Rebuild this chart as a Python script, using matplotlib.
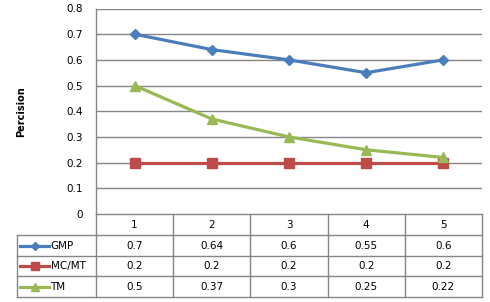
import matplotlib
matplotlib.use("Agg")
import matplotlib.pyplot as plt
from matplotlib.lines import Line2D

categories = ["1", "2", "3", "4", "5"]
series_names = ["GMP", "MC/MT", "TM"]
gmp = [0.7, 0.64, 0.6, 0.55, 0.6]
mcmt = [0.2, 0.2, 0.2, 0.2, 0.2]
tm = [0.5, 0.37, 0.3, 0.25, 0.22]
gmp_text = ["0.7", "0.64", "0.6", "0.55", "0.6"]
mcmt_text = ["0.2", "0.2", "0.2", "0.2", "0.2"]
tm_text = ["0.5", "0.37", "0.3", "0.25", "0.22"]
y_ticks = [0, 0.1, 0.2, 0.3, 0.4, 0.5, 0.6, 0.7, 0.8]
y_label = "Percision"

colors = ["#4A7EBB", "#BE4B48", "#98B954"]
markers = ["D", "s", "^"]
msizes = [5.0, 6.5, 6.5]
grid_c = "#868686"
FS = 7.5
plt.rcParams['font.family'] = ['DejaVu Sans']

W, H = 490, 302
fig = plt.figure(figsize=(W / 100, H / 100), dpi=100)

# plot area in pixels
L, R, T, B = 96, 482, 8.5, 214
ax = fig.add_axes([L / W, 1 - B / H, (R - L) / W, (B - T) / H])
xs = list(range(1, len(categories) + 1))
ax.set_xlim(0.5, len(categories) + 0.5)
ax.set_ylim(0, 0.8)
ax.set_yticks(y_ticks)
ax.set_yticklabels([("%g" % v) for v in y_ticks], fontsize=FS)
ax.tick_params(axis='y', length=0, pad=9.5)
ax.set_xticks([])
for s in ["top", "right", "bottom"]:
    ax.spines[s].set_visible(False)
ax.spines["left"].set_color(grid_c)
ax.spines["left"].set_linewidth(1)
for v in y_ticks[1:]:
    ax.axhline(v, color=grid_c, lw=1, zorder=1)

all_series = [gmp, mcmt, tm]
for vals, c, m, ms in zip(all_series, colors, markers, msizes):
    ax.plot(xs, vals, color=c, lw=2.3, marker=m, markersize=ms,
            markeredgecolor=c, zorder=3, clip_on=False)

fig.text(21 / W, 1 - 112 / H, y_label, rotation=90, fontsize=7,
         fontweight="bold", ha="center", va="center")

# data table
TL = 17
TB = 297
tax = fig.add_axes([0, 0, 1, 1])
tax.set_xlim(0, W)
tax.set_ylim(H, 0)
tax.axis("off")
colw = (R - L) / len(categories)
rows = [B, 235, 255.5, 276, TB]
lw = 1
tax.plot([L, R], [B, B], color=grid_c, lw=lw)
for i in range(len(categories) + 1):
    x = L + i * colw
    tax.plot([x, x], [B, TB], color=grid_c, lw=lw)
for yy in rows[1:]:
    tax.plot([TL, R], [yy, yy], color=grid_c, lw=lw)
tax.plot([TL, TL], [rows[1], TB], color=grid_c, lw=lw)

for i, cat in enumerate(categories):
    tax.text(L + (i + 0.5) * colw, (rows[0] + rows[1]) / 2 + 0.5, cat,
             fontsize=FS, ha="center", va="center")
texts = [gmp_text, mcmt_text, tm_text]
for r, (name, tv, c, m, ms) in enumerate(zip(series_names, texts, colors, markers, msizes)):
    yc = (rows[r + 1] + rows[r + 2]) / 2 + 0.5
    tax.add_line(Line2D([20, 49], [yc, yc], color=c, lw=2.3))
    tax.add_line(Line2D([34.5], [yc], color=c, marker=m, markersize=ms * 0.9,
                        markeredgecolor=c))
    tax.text(50.5, yc, name, fontsize=FS, ha="left", va="center")
    for i, t in enumerate(tv):
        tax.text(L + (i + 0.5) * colw, yc, t, fontsize=FS, ha="center", va="center")

fig.savefig("out.png", dpi=100, facecolor="white")
